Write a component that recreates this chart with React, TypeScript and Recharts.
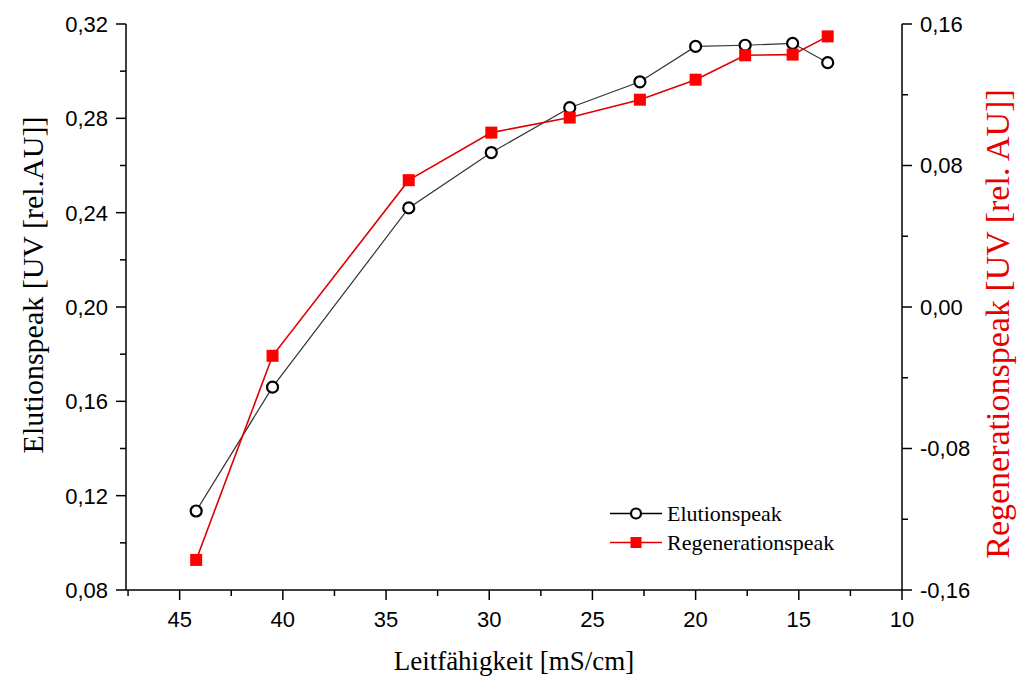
import { LineChart, Line, XAxis, YAxis } from 'recharts'

// Leitfähigkeit [mS/cm]
const conductivity = [44.2, 40.5, 33.9, 29.9, 26.1, 22.7, 20.0, 17.6, 15.3, 13.6]
// Elutionspeak, linke Achse
const elutionPeak = [0.1135, 0.166, 0.242, 0.2655, 0.2845, 0.2955, 0.3105, 0.311, 0.3118, 0.3036]
// Regenerationspeak, rechte Achse
const regenerationPeak = [-0.143, -0.0276, 0.0717, 0.0986, 0.1071, 0.1172, 0.1285, 0.1423, 0.1427, 0.153]

const xTicks = [47.5, 45, 42.5, 40, 37.5, 35, 32.5, 30, 27.5, 25, 22.5, 20, 17.5, 15, 12.5, 10]
const leftTicks = [0.08, 0.1, 0.12, 0.14, 0.16, 0.18, 0.2, 0.22, 0.24, 0.26, 0.28, 0.3, 0.32]
const rightTicks = [-0.16, -0.12, -0.08, -0.04, 0, 0.04, 0.08, 0.12, 0.16]

const data = conductivity.map((c, i) => ({
  c,
  elution: elutionPeak[i],
  regeneration: regenerationPeak[i],
}))

const fmt = (v: number) => v.toFixed(2).replace('.', ',')
const tickFont = { fontFamily: 'Liberation Sans, Arial, sans-serif', fontSize: 22, fill: '#000' }
const serif = 'Liberation Serif, Times New Roman, serif'
const TS = 10 // tickSize
const TM = 8 // tickMargin
const OFF = TS + TM

function LeftTick(props: any) {
  const { x, y, payload } = props
  const v = payload.value as number
  const major = Math.round(v * 100) % 4 === 0
  const ax = x + OFF
  return (
    <g>
      <line x1={ax - (major ? 10 : 6)} x2={ax} y1={y} y2={y} stroke="#000" strokeWidth={1.5} />
      {major && (
        <text x={x} y={y} dy="0.36em" textAnchor="end" {...tickFont}>
          {fmt(v)}
        </text>
      )}
    </g>
  )
}

function RightTick(props: any) {
  const { x, y, payload } = props
  const v = payload.value as number
  const major = Math.round(v * 100) % 8 === 0
  const ax = x - OFF
  return (
    <g>
      <line x1={ax} x2={ax + (major ? 10 : 6)} y1={y} y2={y} stroke="#000" strokeWidth={1.5} />
      {major && (
        <text x={x} y={y} dy="0.36em" textAnchor="start" {...tickFont}>
          {fmt(v)}
        </text>
      )}
    </g>
  )
}

function BottomTick(props: any) {
  const { x, y, payload } = props
  const v = payload.value as number
  const major = v % 5 === 0
  const ay = y - OFF
  return (
    <g>
      <line x1={x} x2={x} y1={ay} y2={ay + (major ? 10 : 6)} stroke="#000" strokeWidth={1.5} />
      {major && (
        <text x={x} y={ay + 37} textAnchor="middle" {...tickFont}>
          {v}
        </text>
      )}
    </g>
  )
}

const RedSquare = (props: any) => {
  const { cx, cy, index } = props
  return <rect key={'sq' + index} x={cx - 6} y={cy - 6} width={12} height={12} fill="#ff0000" />
}

export default function App() {
  return (
    <div style={{ position: 'relative', width: 1019, height: 678, background: '#fff', overflow: 'hidden' }}>
      <style>{'html,body{margin:0;padding:0;overflow:hidden}'}</style>
      <LineChart width={1019} height={678} data={data} margin={{ top: 24, right: 0, left: 0, bottom: 0 }}>
        <XAxis
          dataKey="c"
          type="number"
          domain={[10, 47.6]}
          reversed
          allowDataOverflow
          ticks={xTicks}
          interval={0}
          height={88}
          tickSize={TS}
          tickMargin={TM}
          tickLine={false}
          tick={<BottomTick />}
          axisLine={{ stroke: '#000', strokeWidth: 1.5 }}
          label={{
            content: (p: any) => (
              <text
                x={p.viewBox.x + p.viewBox.width / 2}
                y={p.viewBox.y + 80}
                textAnchor="middle"
                fontFamily={serif}
                fontSize={27}
                fill="#000"
              >
                Leitfähigkeit [mS/cm]
              </text>
            ),
          }}
        />
        <YAxis
          yAxisId="left"
          orientation="left"
          width={126}
          domain={[0.08, 0.32]}
          allowDataOverflow
          ticks={leftTicks}
          interval={0}
          tickSize={TS}
          tickMargin={TM}
          tickLine={false}
          tick={<LeftTick />}
          axisLine={{ stroke: '#000', strokeWidth: 1.5 }}
          label={{
            content: (p: any) => {
              const cx = 32
              const cy = p.viewBox.y + p.viewBox.height / 2 - 22
              return (
                <text
                  x={cx}
                  y={cy}
                  dy="0.35em"
                  transform={`rotate(-90 ${cx} ${cy})`}
                  textAnchor="middle"
                  fontFamily={serif}
                  fontSize={30}
                  fill="#000"
                >
                  Elutionspeak [UV [rel.AU]]
                </text>
              )
            },
          }}
        />
        <YAxis
          yAxisId="right"
          orientation="right"
          width={117}
          domain={[-0.16, 0.16]}
          allowDataOverflow
          ticks={rightTicks}
          interval={0}
          tickSize={TS}
          tickMargin={TM}
          tickLine={false}
          tick={<RightTick />}
          axisLine={{ stroke: '#000', strokeWidth: 1.5 }}
          label={{
            content: (p: any) => {
              const cx = 997
              const cy = p.viewBox.y + p.viewBox.height / 2 + 17
              return (
                <text
                  x={cx}
                  y={cy}
                  dy="0.35em"
                  transform={`rotate(-90 ${cx} ${cy})`}
                  textAnchor="middle"
                  fontFamily={serif}
                  fontSize={34}
                  fill="#e60000"
                >
                  Regenerationspeak [UV [rel. AU]]
                </text>
              )
            },
          }}
        />
        <Line
          yAxisId="left"
          dataKey="elution"
          stroke="#333"
          strokeWidth={1.2}
          dot={{ r: 5.5, fill: '#fff', stroke: '#000', strokeWidth: 2.2 }}
          isAnimationActive={false}
        />
        <Line
          yAxisId="right"
          dataKey="regeneration"
          stroke="#e00000"
          strokeWidth={1.6}
          dot={<RedSquare />}
          isAnimationActive={false}
        />
      </LineChart>
      <div style={{ position: 'absolute', left: 608, top: 499, fontFamily: serif, fontSize: 22, lineHeight: '29px' }}>
        <div style={{ display: 'flex', alignItems: 'center' }}>
          <svg width={56} height={29}>
            <line x1={2} x2={54} y1={14.5} y2={14.5} stroke="#000" strokeWidth={1.3} />
            <circle cx={28} cy={14.5} r={5} fill="#fff" stroke="#000" strokeWidth={2.2} />
          </svg>
          <span style={{ marginLeft: 3 }}>Elutionspeak</span>
        </div>
        <div style={{ display: 'flex', alignItems: 'center' }}>
          <svg width={56} height={29}>
            <line x1={2} x2={54} y1={14.5} y2={14.5} stroke="#e00000" strokeWidth={1.6} />
            <rect x={22.5} y={9} width={11} height={11} fill="#ff0000" />
          </svg>
          <span style={{ marginLeft: 3 }}>Regenerationspeak</span>
        </div>
      </div>
    </div>
  )
}
